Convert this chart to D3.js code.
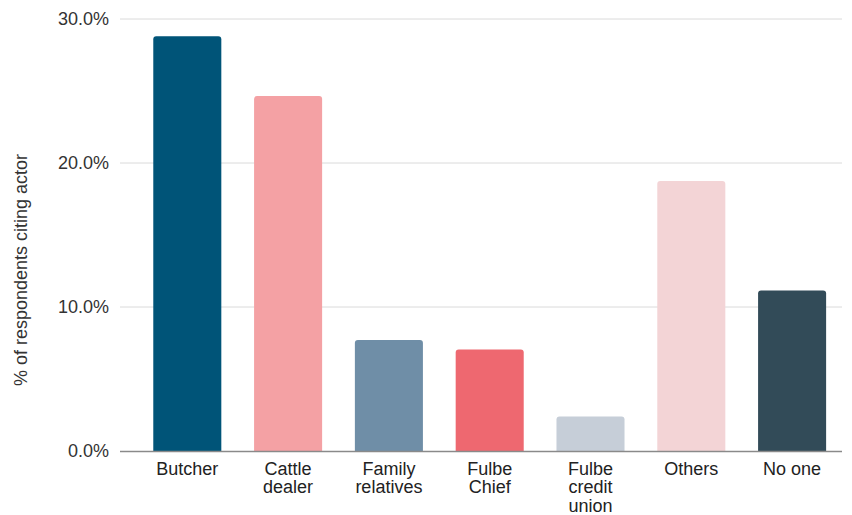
<!DOCTYPE html>
<html>
<head>
<meta charset="utf-8">
<script src="https://cdn.jsdelivr.net/npm/d3@7"></script>
<style>
  html, body { margin: 0; padding: 0; background: #fff; }
  svg { display: block; font-family: "Liberation Sans", Arial, sans-serif; }
</style>
</head>
<body>
<svg id="chart" width="852" height="515"></svg>
<script>
// Who respondents cite as the actor (share of respondents)
const categories = ["Butcher", "Cattle dealer", "Family relatives", "Fulbe Chief", "Fulbe credit union", "Others", "No one"];
const labelLines = [["Butcher"], ["Cattle", "dealer"], ["Family", "relatives"], ["Fulbe", "Chief"], ["Fulbe", "credit", "union"], ["Others"], ["No one"]];
const values = [28.8, 24.65, 7.7, 7.05, 2.4, 18.75, 11.15];
const colors = ["#005478", "#f4a1a4", "#6f8ea7", "#ee6870", "#c6ced8", "#f3d4d6", "#324b58"];
const yTicks = [0, 10, 20, 30];

const svg = d3.select("#chart");
const gridLeft = 120, gridRight = 842;
const fontSize = 18;

const x = d3.scaleBand()
  .domain(categories)
  .range([136.9, 842.5])
  .paddingInner(0.325)
  .paddingOuter(0.1625);

const y = d3.scaleLinear().domain([0, 30]).range([451, 19]);

// horizontal gridlines
svg.append("g").selectAll("line")
  .data(yTicks.filter(d => d > 0))
  .join("line")
  .attr("x1", gridLeft).attr("x2", gridRight)
  .attr("y1", d => y(d)).attr("y2", d => y(d))
  .attr("stroke", "#dadada").attr("stroke-width", 1);

// y tick labels
svg.append("g").selectAll("text")
  .data(yTicks)
  .join("text")
  .attr("x", 109)
  .attr("y", d => y(d))
  .attr("dy", "0.35em")
  .attr("text-anchor", "end")
  .attr("font-size", fontSize)
  .attr("fill", "#333")
  .text(d => d.toFixed(1) + "%");

// bars with rounded top corners
const r = 3;
function barPath(x0, w, yTop, yBase) {
  return `M${x0},${yBase}V${yTop + r}Q${x0},${yTop} ${x0 + r},${yTop}H${x0 + w - r}Q${x0 + w},${yTop} ${x0 + w},${yTop + r}V${yBase}Z`;
}
svg.append("g").selectAll("path")
  .data(categories)
  .join("path")
  .attr("d", (c, i) => barPath(x(c), x.bandwidth(), y(values[i]), y(0)))
  .attr("fill", (c, i) => colors[i]);

// baseline
svg.append("line")
  .attr("x1", gridLeft).attr("x2", gridRight)
  .attr("y1", y(0) + 0.5).attr("y2", y(0) + 0.5)
  .attr("stroke", "#8a8a8a").attr("stroke-width", 1.3);

// category labels
const xl = svg.append("g").selectAll("text")
  .data(categories)
  .join("text")
  .attr("x", c => x(c) + x.bandwidth() / 2)
  .attr("y", 474.5)
  .attr("text-anchor", "middle")
  .attr("font-size", fontSize)
  .attr("fill", "#222");
xl.each(function(c, i) {
  d3.select(this).selectAll("tspan")
    .data(labelLines[i])
    .join("tspan")
    .attr("x", x(c) + x.bandwidth() / 2)
    .attr("dy", (d, j) => j === 0 ? 0 : 18.5)
    .text(d => d);
});

// y axis title
svg.append("text")
  .attr("transform", "translate(27,270) rotate(-90)")
  .attr("text-anchor", "middle")
  .attr("font-size", fontSize)
  .attr("fill", "#333")
  .text("% of respondents citing actor");
</script>
</body>
</html>
